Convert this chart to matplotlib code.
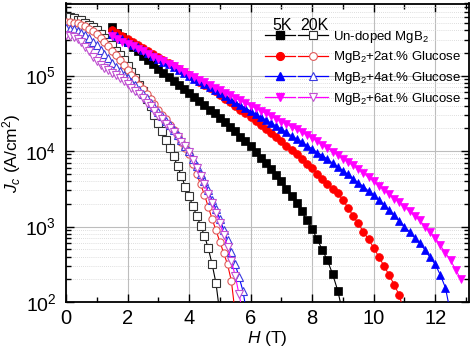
import numpy as np
import matplotlib
matplotlib.use('Agg')
import matplotlib.pyplot as plt
from matplotlib.ticker import LogLocator, FuncFormatter, NullFormatter, MultipleLocator
from matplotlib.legend_handler import HandlerTuple
from matplotlib.lines import Line2D

plt.rcParams['font.family'] = ['Liberation Sans', 'DejaVu Sans']
plt.rcParams['mathtext.fontset'] = 'custom'
plt.rcParams['mathtext.rm'] = 'Liberation Sans'
plt.rcParams['mathtext.it'] = 'Liberation Sans:italic'
plt.rcParams['mathtext.default'] = 'regular'

# ---------------- data (log10 of Jc in A/cm^2) -------------
# 5 K curves: field grid starts at 1.5 T, step 1/6 T
H5_START, H5_STEP = 1.5, 1.0 / 6.0
logJ_5K_undoped = [5.64, 5.57, 5.51, 5.44, 5.38, 5.32, 5.26, 5.20, 5.15, 5.09, 5.04, 4.98,
                   4.93, 4.88, 4.82, 4.77, 4.72, 4.66, 4.61, 4.55, 4.50, 4.44, 4.38, 4.32,
                   4.26, 4.19, 4.13, 4.06, 3.99, 3.91, 3.84, 3.76, 3.68, 3.60, 3.50, 3.41,
                   3.31, 3.20, 3.08, 2.97, 2.83, 2.69, 2.55, 2.37, 2.15, 1.85]
logJ_5K_2at = [5.60, 5.56, 5.52, 5.48, 5.44, 5.41, 5.37, 5.33, 5.29, 5.25, 5.21, 5.17,
               5.13, 5.09, 5.05, 5.01, 4.97, 4.92, 4.88, 4.83, 4.79, 4.74, 4.69, 4.65,
               4.60, 4.55, 4.50, 4.45, 4.40, 4.34, 4.29, 4.24, 4.18, 4.13, 4.07, 4.02,
               3.96, 3.90, 3.83, 3.77, 3.70, 3.63, 3.56, 3.50, 3.44, 3.35, 3.25, 3.14,
               3.04, 2.93, 2.83, 2.72, 2.60, 2.48, 2.36, 2.23, 2.09, 1.85]
logJ_5K_4at = [5.55, 5.52, 5.48, 5.45, 5.41, 5.38, 5.34, 5.30, 5.26, 5.22, 5.18, 5.15,
               5.11, 5.07, 5.04, 5.00, 4.96, 4.93, 4.89, 4.85, 4.81, 4.77, 4.73, 4.69,
               4.65, 4.61, 4.57, 4.53, 4.49, 4.45, 4.41, 4.37, 4.33, 4.29, 4.25, 4.20,
               4.16, 4.12, 4.07, 4.03, 3.98, 3.94, 3.89, 3.84, 3.79, 3.74, 3.69, 3.63,
               3.58, 3.53, 3.47, 3.42, 3.35, 3.29, 3.22, 3.15, 3.07, 3.00, 2.93, 2.85,
               2.78, 2.69, 2.59, 2.50, 2.36, 2.19, 1.85]
logJ_5K_6at = [5.52, 5.49, 5.45, 5.42, 5.39, 5.35, 5.32, 5.29, 5.25, 5.22, 5.19, 5.15,
               5.12, 5.08, 5.05, 5.01, 4.98, 4.94, 4.91, 4.88, 4.84, 4.81, 4.77, 4.74,
               4.70, 4.67, 4.63, 4.60, 4.57, 4.53, 4.50, 4.46, 4.43, 4.39, 4.36, 4.32,
               4.29, 4.25, 4.21, 4.17, 4.13, 4.08, 4.04, 3.99, 3.95, 3.90, 3.85, 3.81,
               3.76, 3.71, 3.65, 3.60, 3.54, 3.49, 3.43, 3.37, 3.32, 3.26, 3.20, 3.14,
               3.08, 3.00, 2.93, 2.85, 2.75, 2.65, 2.55, 2.43, 2.30]

# 20 K curves: field grid starts at 0 T, step 0.125 T
H20_START, H20_STEP = 0.0, 0.125
logJ_20K_undoped = [5.77, 5.77, 5.76, 5.74, 5.73, 5.70, 5.67, 5.64, 5.60, 5.55, 5.50, 5.45,
                    5.40, 5.33, 5.27, 5.20, 5.13, 5.05, 4.97, 4.88, 4.80, 4.69, 4.59, 4.48,
                    4.37, 4.26, 4.15, 4.04, 3.93, 3.80, 3.67, 3.53, 3.40, 3.27, 3.14, 3.01,
                    2.88, 2.71, 2.50, 2.25, 1.85]
logJ_20K_2at = [5.71, 5.71, 5.70, 5.69, 5.67, 5.65, 5.62, 5.59, 5.55, 5.50, 5.44, 5.39,
                5.33, 5.27, 5.20, 5.14, 5.07, 5.01, 4.95, 4.88, 4.82, 4.75, 4.69, 4.62,
                4.55, 4.48, 4.42, 4.35, 4.28, 4.20, 4.12, 4.04, 3.96, 3.83, 3.69, 3.56,
                3.42, 3.26, 3.10, 2.95, 2.80, 2.65, 2.50, 2.28, 1.85]
logJ_20K_4at = [5.63, 5.62, 5.61, 5.59, 5.57, 5.54, 5.50, 5.45, 5.40, 5.34, 5.28, 5.23,
                5.17, 5.11, 5.06, 5.01, 4.97, 4.92, 4.87, 4.81, 4.76, 4.70, 4.64, 4.58,
                4.52, 4.46, 4.40, 4.34, 4.28, 4.21, 4.14, 4.07, 4.00, 3.90, 3.80, 3.70,
                3.60, 3.48, 3.35, 3.23, 3.10, 2.96, 2.82, 2.66, 2.50, 2.33, 2.15, 1.85]
logJ_20K_6at = [5.54, 5.53, 5.51, 5.48, 5.44, 5.38, 5.32, 5.25, 5.19, 5.14, 5.10, 5.07,
                5.04, 5.01, 4.97, 4.93, 4.89, 4.84, 4.80, 4.75, 4.70, 4.64, 4.59, 4.53,
                4.47, 4.42, 4.36, 4.31, 4.25, 4.19, 4.12, 4.06, 3.99, 3.88, 3.78, 3.67,
                3.56, 3.43, 3.31, 3.18, 3.05, 2.89, 2.73, 2.54, 2.35, 2.10, 1.85]

labels = ['Un-doped MgB$_2$', 'MgB$_2$+2at.% Glucose',
          'MgB$_2$+4at.% Glucose', 'MgB$_2$+6at.% Glucose']
colors = ['#000000', '#ff0000', '#0000ff', '#ff00ff']
open_edge = ['#333333', '#e05a5a', '#3a3ae0', '#c050d0']
markers = ['s', 'o', '^', 'v']
data_5K = [logJ_5K_undoped, logJ_5K_2at, logJ_5K_4at, logJ_5K_6at]
data_20K = [logJ_20K_undoped, logJ_20K_2at, logJ_20K_4at, logJ_20K_6at]

# ---------------- figure ----------------
fig = plt.figure(figsize=(4.74, 3.54), dpi=100)
ax = fig.add_axes([66 / 474, 1 - 302 / 354, 403 / 474, 298.5 / 354])

MS = 5.6
for l20, c, ce, m in zip(data_20K, colors, open_edge, markers):
    h = H20_START + np.arange(len(l20)) * H20_STEP
    ax.plot(h, 10 ** np.array(l20), color=c, lw=0.8, marker=m, ms=MS - 0.4,
            mfc='white', mec=ce, mew=0.8, zorder=3)
for l5, c, m in zip(data_5K, colors, markers):
    h = H5_START + np.arange(len(l5)) * H5_STEP
    ax.plot(h, 10 ** np.array(l5), color=c, lw=0.8, marker=m, ms=MS,
            mfc=c, mec=c, mew=0.5, zorder=4)

ax.set_yscale('log')
ax.set_xlim(0, 13.1)
ax.set_ylim(1e2, 9e5)

ax.xaxis.set_major_locator(MultipleLocator(2))
ax.xaxis.set_minor_locator(MultipleLocator(1))
ax.yaxis.set_major_locator(LogLocator(base=10, numticks=10))
ax.yaxis.set_minor_locator(LogLocator(base=10, subs=np.arange(2, 10), numticks=20))
ax.yaxis.set_minor_formatter(NullFormatter())
ax.yaxis.set_major_formatter(FuncFormatter(lambda v, p: '$10^{%d}$' % round(np.log10(v))))

ax.tick_params(which='both', direction='in', top=True, right=True, width=1.0)
ax.tick_params(which='major', length=6)
ax.tick_params(which='minor', length=3.5)
ax.tick_params(axis='x', which='major', labelsize=14.5, pad=5)
ax.tick_params(axis='y', which='major', labelsize=14, pad=7)

ax.grid(which='major', color='#bdbdbd', lw=0.8, ls='-')
ax.grid(which='minor', axis='y', color='#d4d4d4', lw=0.6, ls=(0, (1, 1.5)))
ax.set_axisbelow(True)
for s in ax.spines.values():
    s.set_linewidth(1.3)

ax.set_xlabel('$\\mathit{H}$ (T)', fontsize=12.5, labelpad=1)
ax.set_ylabel('$\\mathit{J}_{\\mathit{c}}$ (A/cm$^2$)', fontsize=12.5, labelpad=2)

# legend
handles = []
for c, ce, m in zip(colors, open_edge, markers):
    h5 = Line2D([], [], color=c, lw=0.9, marker=m, ms=MS, mfc=c, mec=c)
    h20 = Line2D([], [], color=c, lw=0.9, marker=m, ms=MS, mfc='white', mec=ce, mew=0.8)
    handles.append((h5, h20))
leg = ax.legend(handles, labels, handler_map={tuple: HandlerTuple(ndivide=None, pad=0.25)},
                loc='upper left', bbox_to_anchor=(0.494, 0.916), frameon=False,
                fontsize=9.5, handlelength=4.8, handletextpad=0.35, labelspacing=0.36,
                borderpad=0, borderaxespad=0, numpoints=1)
ax.text(0.511, 0.927, '5K', transform=ax.transAxes, fontsize=11.5, va='center', ha='left')
ax.text(0.581, 0.927, '20K', transform=ax.transAxes, fontsize=11.5, va='center', ha='left')

fig.savefig('out.png', dpi=100)
